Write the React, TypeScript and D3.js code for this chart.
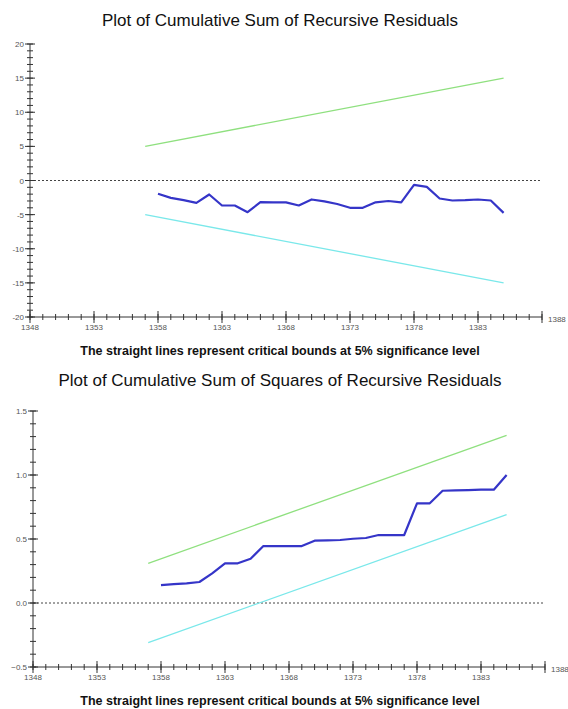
import React from "react";
import * as d3 from "d3";

// ---- Data ----
const cusumYears = [1358,1359,1360,1361,1362,1363,1364,1365,1366,1367,1368,1369,1370,1371,1372,1373,1374,1375,1376,1377,1378,1379,1380,1381,1382,1383,1384,1385];
const cusumValues = [-1.95,-2.54,-2.88,-3.27,-2.05,-3.66,-3.66,-4.64,-3.17,-3.2,-3.2,-3.66,-2.78,-3.05,-3.44,-4.0,-4.0,-3.2,-3.0,-3.2,-0.64,-0.93,-2.64,-2.93,-2.88,-2.78,-2.93,-4.74];
const cusumUpper = [5, 15];
const cusumLower = [-5, -15];

const sqYears = cusumYears;
const sqValues = [0.14,0.148,0.154,0.164,0.232,0.31,0.31,0.346,0.445,0.445,0.445,0.445,0.487,0.49,0.492,0.502,0.508,0.531,0.531,0.531,0.779,0.779,0.877,0.88,0.882,0.885,0.885,1.0];
const sqUpper = [0.31, 1.31];
const sqLower = [-0.31, 0.69];

const boundYears = [1357, 1385];
const xTickLabels = ["1348","1353","1358","1363","1368","1373","1378","1383","1388"];
const cusumYTicks = [-20,-15,-10,-5,0,5,10,15,20];
const sqYTicks = [-0.5,0,0.5,1.0,1.5];

const titles = ["Plot of Cumulative Sum of Recursive Residuals", "Plot of Cumulative Sum of Squares of Recursive Residuals"];
const caption = "The straight lines represent critical bounds at 5% significance level";

const FONT = "'Liberation Sans', Arial, sans-serif";

type PanelProps = {
  x0: number; x1: number; yTop: number; yBot: number;
  yDomain: [number, number]; yMajor: number[]; yMinorStep: number; yFmt: (v: number) => string;
  years: number[]; values: number[]; upper: number[]; lower: number[];
  title: string; titleY: number; captionY: number;
};

function Panel(p: PanelProps) {
  const x = d3.scaleLinear().domain([1348, 1388]).range([p.x0, p.x1]);
  const y = d3.scaleLinear().domain(p.yDomain).range([p.yBot, p.yTop]);
  const minorY = d3.range(p.yDomain[0], p.yDomain[1] + p.yMinorStep / 2, p.yMinorStep);
  const minorX = d3.range(1348, 1389, 1);
  const line = d3.line<[number, number]>().x(d => x(d[0])).y(d => y(d[1]));
  const blue = line(p.years.map((t, i) => [t, p.values[i]] as [number, number]));
  const up = line(boundYears.map((t, i) => [t, p.upper[i]] as [number, number]));
  const lo = line(boundYears.map((t, i) => [t, p.lower[i]] as [number, number]));
  const axisY = y(p.yDomain[0]);
  const tc = "#333";
  return (
    <g>
      <text x={280} y={p.titleY} textAnchor="middle" fontFamily={FONT} fontSize={17} fill="#111">{p.title}</text>
      {/* zero line */}
      <line x1={p.x0} x2={p.x1} y1={y(0)} y2={y(0)} stroke="#444" strokeWidth={1} strokeDasharray="2,2" />
      {/* y axis */}
      <line x1={p.x0} x2={p.x0} y1={p.yTop} y2={p.yBot} stroke={tc} strokeWidth={1} />
      {minorY.map((v, i) => (
        <line key={"ym" + i} x1={p.x0 - 3} x2={p.x0 + 3} y1={y(v)} y2={y(v)} stroke={tc} strokeWidth={1} />
      ))}
      {p.yMajor.map((v, i) => (
        <g key={"yM" + i}>
          <line x1={p.x0 - 5} x2={p.x0 + 5} y1={y(v)} y2={y(v)} stroke={tc} strokeWidth={1} />
          <text x={p.x0 - 6} y={y(v) + 3} textAnchor="end" fontFamily={FONT} fontSize={8} fill="#555">{p.yFmt(v)}</text>
        </g>
      ))}
      {/* x axis */}
      <line x1={p.x0} x2={p.x1} y1={axisY} y2={axisY} stroke={tc} strokeWidth={1} />
      {minorX.map((t, i) => (
        <line key={"xm" + i} x1={x(t)} x2={x(t)} y1={axisY - 3} y2={axisY + 3} stroke={tc} strokeWidth={1} />
      ))}
      {xTickLabels.map((lab, i) => {
        const t = +lab;
        const last = i === xTickLabels.length - 1;
        return (
          <g key={"xM" + i}>
            <line x1={x(t)} x2={x(t)} y1={axisY - 6} y2={axisY + 6} stroke={tc} strokeWidth={1} />
            <text x={last ? x(t) + 6 : x(t)} y={last ? axisY + 5 : axisY + 13} textAnchor={last ? "start" : "middle"} fontFamily={FONT} fontSize={8} fill="#555">{lab}</text>
          </g>
        );
      })}
      {/* bounds */}
      <path d={up || ""} fill="none" stroke="#8fe07f" strokeWidth={1.3} />
      <path d={lo || ""} fill="none" stroke="#7ae8ea" strokeWidth={1.3} />
      {/* series */}
      <path d={blue || ""} fill="none" stroke="#3535c8" strokeWidth={2.2} strokeLinejoin="round" />
      <text x={280} y={p.captionY} textAnchor="middle" fontFamily={FONT} fontSize={12.5} fontWeight="bold" fill="#111">{caption}</text>
    </g>
  );
}

export default function App() {
  return (
    <svg width={568} height={709} style={{ position: "absolute", left: 0, top: 0, background: "#fff" }}>
      <rect x={0} y={0} width={568} height={709} fill="#fff" />
      <Panel x0={30} x1={542} yTop={44} yBot={317} yDomain={[-20, 20]} yMajor={cusumYTicks} yMinorStep={1}
        yFmt={v => String(v)} years={cusumYears} values={cusumValues} upper={cusumUpper} lower={cusumLower}
        title={titles[0]} titleY={26} captionY={355} />
      <Panel x0={33} x1={545} yTop={411} yBot={667} yDomain={[-0.5, 1.5]} yMajor={sqYTicks} yMinorStep={0.1}
        yFmt={v => d3.format(".1f")(v)} years={sqYears} values={sqValues} upper={sqUpper} lower={sqLower}
        title={titles[1]} titleY={386} captionY={705} />
    </svg>
  );
}
